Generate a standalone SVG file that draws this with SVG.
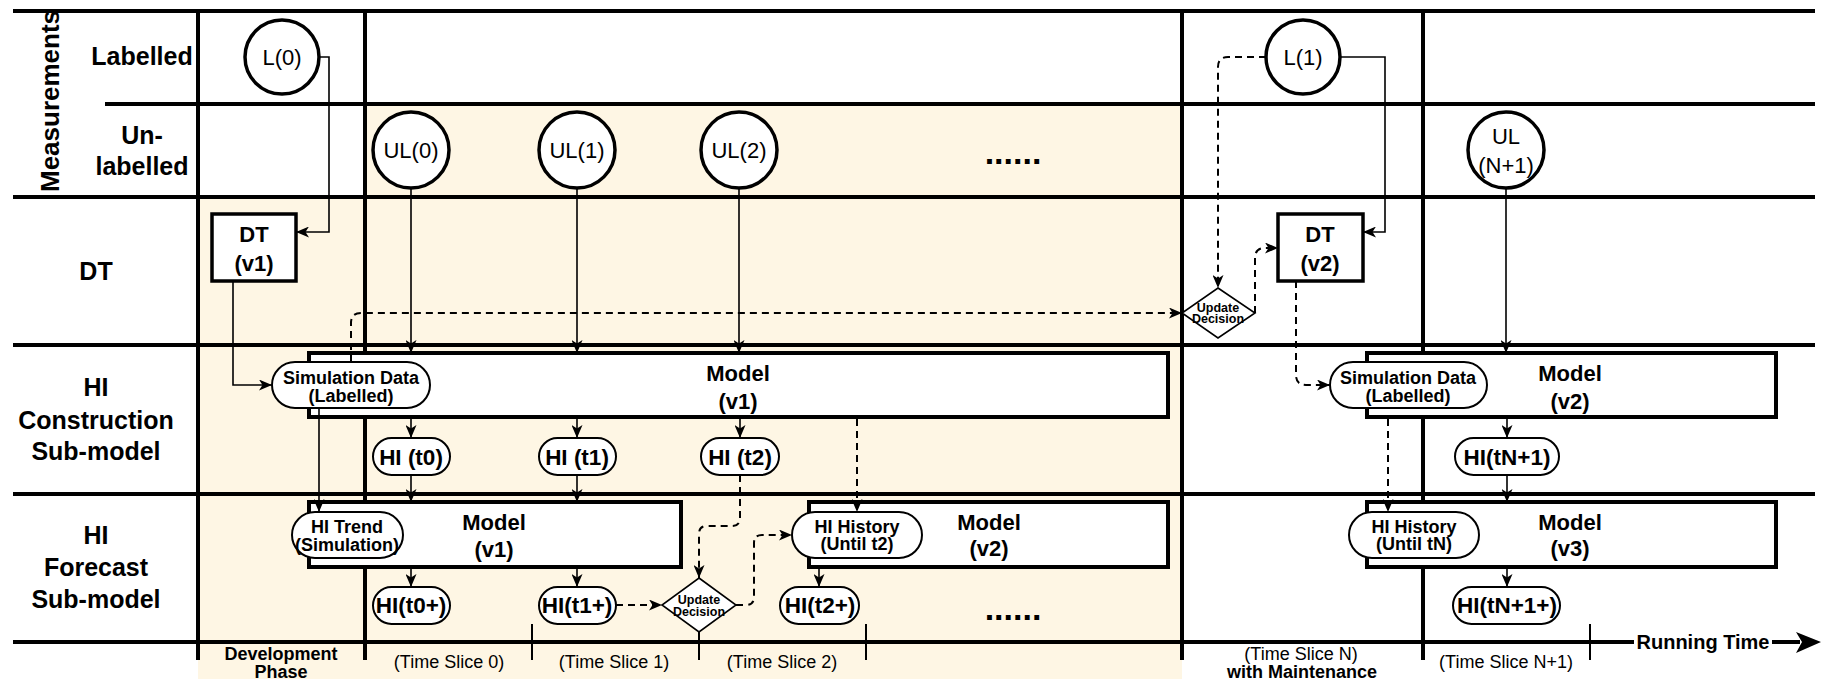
<svg xmlns="http://www.w3.org/2000/svg" width="1821" height="679" viewBox="0 0 1821 679">
<style>
.lane{stroke:#000;stroke-width:4;fill:none}
.tick{stroke:#000;stroke-width:2;fill:none}
.c{stroke:#000;stroke-width:1.6;fill:none}
.d{stroke:#000;stroke-width:2;fill:none;stroke-dasharray:7 5}
.box{fill:#fff;stroke:#000;stroke-width:4}
.dt{fill:#fff;stroke:#000;stroke-width:3.5}
.circ{fill:#fff;stroke:#000;stroke-width:3.5}
.pill{fill:#fff;stroke:#000;stroke-width:2}
.dia{fill:#fff;stroke:#000;stroke-width:1.6}
text{font-family:"Liberation Sans",Arial,sans-serif;text-anchor:middle;dominant-baseline:central;fill:#000}
.b{font-weight:bold}
.lab{font-size:25px;font-weight:bold}
.mod{font-size:22px;font-weight:bold}
.hi{font-size:22.5px;font-weight:bold}
.dtt{font-size:22px;font-weight:bold}
.sm{font-size:18px;font-weight:bold}
.ul{font-size:22px}
.ud{font-size:12.5px;font-weight:bold}
.ts{font-size:18px}
.dots{font-size:34px;font-weight:bold}
</style>
<defs>
<marker id="a" viewBox="0 0 13 11" refX="13" refY="5.5" markerWidth="13" markerHeight="11" markerUnits="userSpaceOnUse" orient="auto">
<path d="M0,0 L13,5.5 L0,11 L3.5,5.5 Z" fill="#000"/>
</marker>
</defs>

<g id="background">
<polygon points="365,104 1182,104 1182,679 198,679 198,197 365,197" fill="#fef6e4"/>
</g>

<g id="lanes">
<path class="lane" d="M13,11 H1815 M105,104 H1815 M13,197 H1815 M13,345 H1815 M13,494 H1815 M13,642 H1634 M1772,642 H1800"/>
<path class="lane" d="M198,11 V660 M365,11 V660 M1182,11 V660 M1423,11 V660"/>
<path class="tick" d="M532,624 V660 M699,624 V660 M866,624 V660 M1590,624 V660"/>
<path d="M1796,632 L1821,642 L1796,653 L1802,642 Z" fill="#000"/>
</g>

<g id="labels">
<text class="lab" transform="translate(50,101) rotate(-90)" style="font-size:26px">Measurements</text>
<text class="lab" x="142" y="56">Labelled</text>
<text class="lab" x="142" y="135">Un-</text>
<text class="lab" x="142" y="166">labelled</text>
<text class="lab" x="96" y="271">DT</text>
<text class="lab" x="96" y="387">HI</text>
<text class="lab" x="96" y="420">Construction</text>
<text class="lab" x="96" y="451">Sub-model</text>
<text class="lab" x="96" y="535">HI</text>
<text class="lab" x="96" y="567">Forecast</text>
<text class="lab" x="96" y="599">Sub-model</text>
<text class="sm" x="281" y="654">Development</text>
<text class="sm" x="281" y="672">Phase</text>
<text class="ts" x="449" y="662">(Time Slice 0)</text>
<text class="ts" x="614" y="662">(Time Slice 1)</text>
<text class="ts" x="782" y="662">(Time Slice 2)</text>
<text class="ts" x="1301" y="654">(Time Slice N)</text>
<text class="sm" x="1302" y="672">with Maintenance</text>
<text class="ts" x="1506" y="662">(Time Slice N+1)</text>
<text class="b" x="1703" y="642" style="font-size:20px">Running Time</text>
<text class="dots" x="1013" y="152">......</text>
<text class="dots" x="1013" y="608">......</text>
</g>

<g id="model-c-v1"><rect class="box" x="309" y="353" width="859" height="64"/><text class="mod" x="738" y="373">Model</text><text class="mod" x="738" y="401">(v1)</text></g>
<g id="model-c-v2"><rect class="box" x="1367" y="353" width="409" height="64"/><text class="mod" x="1570" y="373">Model</text><text class="mod" x="1570" y="401">(v2)</text></g>
<g id="model-f-v1"><rect class="box" x="309" y="502" width="372" height="65"/><text class="mod" x="494" y="522">Model</text><text class="mod" x="494" y="549">(v1)</text></g>
<g id="model-f-v2"><rect class="box" x="809" y="502" width="359" height="65"/><text class="mod" x="989" y="522">Model</text><text class="mod" x="989" y="548">(v2)</text></g>
<g id="model-f-v3"><rect class="box" x="1367" y="502" width="409" height="65"/><text class="mod" x="1570" y="522">Model</text><text class="mod" x="1570" y="548">(v3)</text></g>

<g id="L0"><circle class="circ" cx="282" cy="57" r="37"/><text class="ul" x="282" y="57">L(0)</text></g>
<g id="L1"><circle class="circ" cx="1303" cy="57" r="37"/><text class="ul" x="1303" y="57">L(1)</text></g>
<g id="UL0"><circle class="circ" cx="411" cy="150" r="38"/><text class="ul" x="411" y="150">UL(0)</text></g>
<g id="UL1"><circle class="circ" cx="577" cy="150" r="38"/><text class="ul" x="577" y="150">UL(1)</text></g>
<g id="UL2"><circle class="circ" cx="739" cy="150" r="38"/><text class="ul" x="739" y="150">UL(2)</text></g>
<g id="ULN1"><circle class="circ" cx="1506" cy="150" r="38"/><text class="ul" x="1506" y="136">UL</text><text class="ul" x="1506" y="165">(N+1)</text></g>

<g id="DTv1"><rect class="dt" x="212" y="214" width="84" height="67"/><text class="dtt" x="254" y="234">DT</text><text class="dtt" x="254" y="263">(v1)</text></g>
<g id="DTv2"><rect class="dt" x="1278" y="214" width="85" height="67"/><text class="dtt" x="1320" y="234">DT</text><text class="dtt" x="1320" y="263">(v2)</text></g>

<g id="simdata-v1"><rect class="pill" x="272" y="362" width="158" height="46" rx="23"/><text class="sm" x="351" y="378">Simulation Data</text><text class="sm" x="351" y="396">(Labelled)</text></g>
<g id="simdata-v2"><rect class="pill" x="1330" y="362" width="157" height="46" rx="23"/><text class="sm" x="1408" y="378">Simulation Data</text><text class="sm" x="1408" y="396">(Labelled)</text></g>
<g id="hitrend"><rect class="pill" x="292" y="512" width="111" height="46" rx="23"/><text class="sm" x="347" y="527">HI Trend</text><text class="sm" x="347" y="545">(Simulation)</text></g>
<g id="hihist-t2"><rect class="pill" x="792" y="512" width="130" height="46" rx="23"/><text class="sm" x="857" y="527">HI History</text><text class="sm" x="857" y="544">(Until t2)</text></g>
<g id="hihist-tN"><rect class="pill" x="1349" y="512" width="130" height="46" rx="23"/><text class="sm" x="1414" y="527">HI History</text><text class="sm" x="1414" y="544">(Until tN)</text></g>

<g id="HIt0"><rect class="pill" x="373" y="438" width="77" height="37" rx="18.5"/><text class="hi" x="411" y="457">HI (t0)</text></g>
<g id="HIt1"><rect class="pill" x="539" y="438" width="77" height="37" rx="18.5"/><text class="hi" x="577" y="457">HI (t1)</text></g>
<g id="HIt2"><rect class="pill" x="701" y="438" width="78" height="37" rx="18.5"/><text class="hi" x="740" y="457">HI (t2)</text></g>
<g id="HItN1"><rect class="pill" x="1455" y="438" width="104" height="37" rx="18.5"/><text class="hi" x="1507" y="457">HI(tN+1)</text></g>
<g id="HIt0p"><rect class="pill" x="373" y="587" width="77" height="37" rx="18.5"/><text class="hi" x="411" y="605">HI(t0+)</text></g>
<g id="HIt1p"><rect class="pill" x="539" y="587" width="77" height="37" rx="18.5"/><text class="hi" x="577" y="605">HI(t1+)</text></g>
<g id="HIt2p"><rect class="pill" x="780" y="587" width="79" height="37" rx="18.5"/><text class="hi" x="820" y="605">HI(t2+)</text></g>
<g id="HItN1p"><rect class="pill" x="1453" y="587" width="107" height="37" rx="18.5"/><text class="hi" x="1507" y="605">HI(tN+1+)</text></g>

<g id="update-1"><polygon class="dia" points="699,578 736,605 699,632 662,605"/><text class="ud" x="699" y="600">Update</text><text class="ud" x="699" y="612">Decision</text></g>
<g id="update-N"><polygon class="dia" points="1218,288 1255,313 1218,338 1182,313"/><text class="ud" x="1218" y="308">Update</text><text class="ud" x="1218" y="319">Decision</text></g>

<g id="connectors">
<path class="c" marker-end="url(#a)" d="M319,57 H329 V232 H296"/>
<path class="c" marker-end="url(#a)" d="M233,281 V385 H272"/>
<path class="c" marker-end="url(#a)" d="M411,188 V353"/>
<path class="c" marker-end="url(#a)" d="M577,188 V353"/>
<path class="c" marker-end="url(#a)" d="M739,188 V353"/>
<path class="c" marker-end="url(#a)" d="M1506,188 V353"/>
<path class="c" marker-end="url(#a)" d="M411,419 V438"/>
<path class="c" marker-end="url(#a)" d="M577,419 V438"/>
<path class="c" marker-end="url(#a)" d="M740,419 V438"/>
<path class="c" marker-end="url(#a)" d="M411,475 V502"/>
<path class="c" marker-end="url(#a)" d="M577,475 V502"/>
<path class="c" marker-end="url(#a)" d="M319,408 V512"/>
<path class="c" marker-end="url(#a)" d="M411,569 V587"/>
<path class="c" marker-end="url(#a)" d="M577,569 V587"/>
<path class="c" marker-end="url(#a)" d="M819,569 V587"/>
<path class="c" marker-end="url(#a)" d="M1340,57 H1385 V232 H1363"/>
<path class="c" marker-end="url(#a)" d="M1507,419 V438"/>
<path class="c" marker-end="url(#a)" d="M1507,475 V502"/>
<path class="c" marker-end="url(#a)" d="M1507,569 V587"/>
<path class="d" marker-end="url(#a)" d="M740,475 V518 Q740,526 732,526 H707 Q699,526 699,534 V578"/>
<path class="d" marker-end="url(#a)" d="M616,605 H662"/>
<path class="d" marker-end="url(#a)" d="M736,605 H746 Q754,605 754,597 V543 Q754,535 762,535 H792"/>
<path class="d" marker-end="url(#a)" d="M857,419 V512"/>
<path class="d" marker-end="url(#a)" d="M351,362 V323 Q351,313 361,313 H1182"/>
<path class="d" marker-end="url(#a)" d="M1266,57 H1228 Q1218,57 1218,67 V288"/>
<path class="d" marker-end="url(#a)" d="M1255,313 V258 Q1255,248 1265,248 H1278"/>
<path class="d" marker-end="url(#a)" d="M1296,281 V375 Q1296,385 1306,385 H1330"/>
<path class="d" marker-end="url(#a)" d="M1388,419 V512"/>
</g>
</svg>
